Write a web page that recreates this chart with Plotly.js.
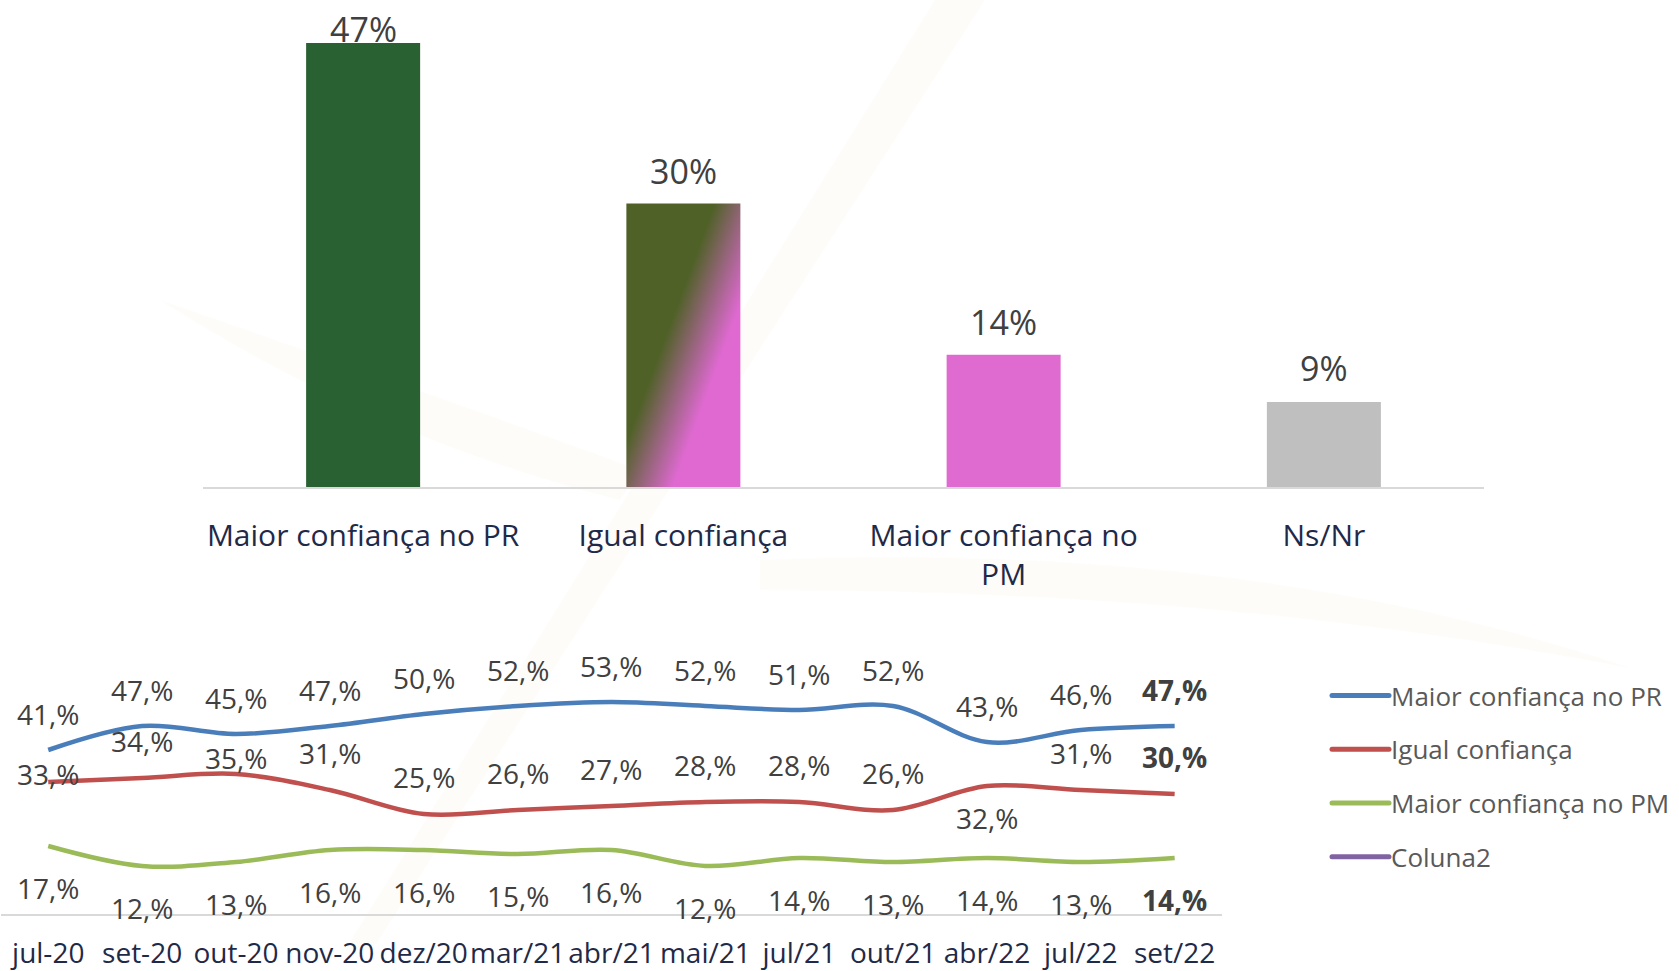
<!DOCTYPE html>
<html>
<head>
<meta charset="utf-8">
<script src="https://cdn.plot.ly/plotly-3.0.1.min.js"></script>
<style>
  html, body { margin: 0; padding: 0; background: #ffffff; }
  #chart { width: 1679px; height: 971px; }
</style>
</head>
<body>
<div id="chart"></div>
<script>
// ---------- DATA ----------
const barCategories = ['Maior confiança no PR', 'Igual confiança', 'Maior confiança no PM', 'Ns/Nr'];
const barTickText = ['Maior confiança no PR', 'Igual confiança', 'Maior confiança no<br>PM', 'Ns/Nr'];
const barValues = [47, 30, 14, 9];
const barLabels = ['47%', '30%', '14%', '9%'];

const months = ['jul-20', 'set-20', 'out-20', 'nov-20', 'dez/20', 'mar/21', 'abr/21', 'mai/21', 'jul/21', 'out/21', 'abr/22', 'jul/22', 'set/22'];
const maiorPR = [41, 47, 45, 47, 50, 52, 53, 52, 51, 52, 43, 46, 47];
const igualConf = [33, 34, 35, 31, 25, 26, 27, 28, 28, 26, 32, 31, 30];
const maiorPM = [17, 12, 13, 16, 16, 15, 16, 12, 14, 13, 14, 13, 14];
const coluna2 = [null, null, null, null, null, null, null, null, null, null, null, null, null];

const seriesNames = ['Maior confiança no PR', 'Igual confiança', 'Maior confiança no PM', 'Coluna2'];

// ---------- STYLE ----------
const W = 1679, H = 971;
const FONT = 'Open Sans, Noto Sans, sans-serif';
const lineColors = ['#4a7ebb', '#c0504d', '#9bbb59', '#8064a2'];
const barColors = ['#2a6132', '#506128', '#e06bd0', '#bfbfbf'];
// label vertical offsets (px) relative to the point
const barLabelShift = [14, 33, 33, 34];
const prShift = maiorPR.map(() => 36);
const igShift = [8, 37, 16, 37, 37, 37, 37, 37, 37, 37, -32, 37, 37];
const pmShift = maiorPM.map(() => -42);

function px(x, y) { return (x / W).toFixed(5) + ',' + (1 - y / H).toFixed(5); }

const traces = [];
traces.push({
  type: 'bar', x: barCategories, y: barValues, xaxis: 'x', yaxis: 'y',
  width: 0.356, marker: { color: barColors, line: { width: 0 } },
  showlegend: false, hoverinfo: 'skip'
});
const lineData = [maiorPR, igualConf, maiorPM, coluna2];
lineData.forEach((ys, i) => {
  traces.push({
    type: 'scatter', mode: 'lines', x: months, y: ys, xaxis: 'x2', yaxis: 'y2',
    name: seriesNames[i], legendgroup: 'g' + i,
    line: { color: lineColors[i], width: 4.5, shape: 'spline', smoothing: 1 },
    hoverinfo: 'skip'
  });
});

const annotations = [];
barValues.forEach((v, i) => {
  annotations.push({
    xref: 'x', yref: 'y', x: barCategories[i], y: v, yshift: barLabelShift[i],
    text: barLabels[i], showarrow: false, xanchor: 'center', yanchor: 'middle',
    font: { family: FONT, size: 34, color: '#404040' }
  });
});
[[maiorPR, prShift], [igualConf, igShift], [maiorPM, pmShift]].forEach(([ys, sh]) => {
  ys.forEach((v, i) => {
    const last = i === ys.length - 1;
    const t = v + ',%';
    annotations.push({
      xref: 'x2', yref: 'y2', x: months[i], y: v, yshift: sh[i],
      text: last ? '<b>' + t + '</b>' : t, showarrow: false,
      xanchor: 'center', yanchor: 'middle',
      font: { family: FONT, size: 28, color: '#404040' }
    });
  });
});

// very faint watermark
const wm = 'rgba(240,226,196,0.10)';
const shapes = [
  { type: 'path', xref: 'paper', yref: 'paper', layer: 'below', line: { width: 0 }, fillcolor: wm,
    path: 'M' + px(345, 950) + 'L' + px(372, 950) + 'L' + px(985, 0) + 'L' + px(935, 0) + 'Z' },
  { type: 'path', xref: 'paper', yref: 'paper', layer: 'below', line: { width: 0 }, fillcolor: wm,
    path: 'M' + px(160, 300) + 'Q' + px(420, 390) + ' ' + px(640, 470) + 'L' + px(620, 500) + 'Q' + px(380, 440) + ' ' + px(160, 300) + 'Z' },
  { type: 'path', xref: 'paper', yref: 'paper', layer: 'below', line: { width: 0 }, fillcolor: wm,
    path: 'M' + px(760, 560) + 'Q' + px(1250, 540) + ' ' + px(1630, 668) + 'Q' + px(1230, 590) + ' ' + px(760, 590) + 'Z' }
];

const layout = {
  width: W, height: H,
  margin: { l: 0, r: 0, t: 0, b: 0, pad: 0 },
  paper_bgcolor: '#ffffff', plot_bgcolor: 'rgba(0,0,0,0)',
  font: { family: FONT, color: '#404040' },
  showlegend: true,
  xaxis: {
    domain: [203 / W, 1484 / W], anchor: 'y', type: 'category', range: [-0.5, 3.5],
    tickvals: barCategories, ticktext: barTickText,
    showline: true, linecolor: '#d9d9d9', linewidth: 2, showgrid: false, zeroline: false,
    ticks: '', ticklabelstandoff: 21,
    tickfont: { family: FONT, size: 30, color: '#1f2a48' }, fixedrange: true
  },
  yaxis: {
    domain: [1 - 487 / H, 1 - (487 - 50 * 9.447) / H], anchor: 'x', range: [0, 50],
    visible: false, showgrid: false, zeroline: false, fixedrange: true
  },
  xaxis2: {
    domain: [1.3 / W, 1221.6 / W], anchor: 'y2', type: 'category', range: [-0.5, 12.5],
    showline: true, linecolor: '#d9d9d9', linewidth: 2, showgrid: false, zeroline: false,
    ticks: '', ticklabelstandoff: 13,
    tickfont: { family: FONT, size: 28, color: '#1f2a48' }, fixedrange: true
  },
  yaxis2: {
    domain: [1 - 914 / H, 1 - 674 / H], anchor: 'x2', range: [0, 60],
    visible: false, showgrid: false, zeroline: false, fixedrange: true
  },
  legend: {
    x: 1331 / W, y: 1 - 672 / H, xanchor: 'left', yanchor: 'top',
    font: { family: FONT, size: 26, color: '#595959' },
    bgcolor: 'rgba(0,0,0,0)', tracegroupgap: 17, traceorder: 'grouped',
    itemclick: false, itemdoubleclick: false
  },
  annotations: annotations,
  shapes: shapes
};

function decorate(gd) {
  const svg = gd.querySelector('svg.main-svg');
  const ns = 'http://www.w3.org/2000/svg';
  const bars = gd.querySelectorAll('.barlayer .point path');
  if (bars.length > 1 && !document.getElementById('barGrad2')) {
    const p = bars[1];
    const bb = p.getBBox();
    let defs = svg.querySelector('defs');
    if (!defs) { defs = document.createElementNS(ns, 'defs'); svg.insertBefore(defs, svg.firstChild); }
    const g = document.createElementNS(ns, 'linearGradient');
    g.setAttribute('id', 'barGrad2');
    g.setAttribute('gradientUnits', 'userSpaceOnUse');
    const nx = 0.938, ny = 0.347;
    g.setAttribute('x1', bb.x + nx * 83); g.setAttribute('y1', bb.y + ny * 83);
    g.setAttribute('x2', bb.x + nx * 142); g.setAttribute('y2', bb.y + ny * 142);
    [['0', '#506128'], ['1', '#df69d1']].forEach(([o, c]) => {
      const s = document.createElementNS(ns, 'stop');
      s.setAttribute('offset', o); s.setAttribute('stop-color', c);
      g.appendChild(s);
    });
    defs.appendChild(g);
    p.style.fill = 'url(#barGrad2)';
  }
  // longer legend lines, text shifted right, like the reference
  gd.querySelectorAll('.legend .scrollbox').forEach(el => el.removeAttribute('clip-path'));
  gd.querySelectorAll('g.legendlines path').forEach(path => {
    path.setAttribute('d', 'M1,0h57');
    path.style.strokeWidth = '5px';
    path.style.strokeLinecap = 'round';
  });
  gd.querySelectorAll('.legend text.legendtext').forEach(t => {
    t.setAttribute('x', 60);
  });
}

Plotly.newPlot('chart', traces, layout, { staticPlot: true, displayModeBar: false }).then(gd => {
  decorate(gd);
  setTimeout(() => decorate(gd), 200);
  setTimeout(() => decorate(gd), 800);
});
</script>
</body>
</html>
